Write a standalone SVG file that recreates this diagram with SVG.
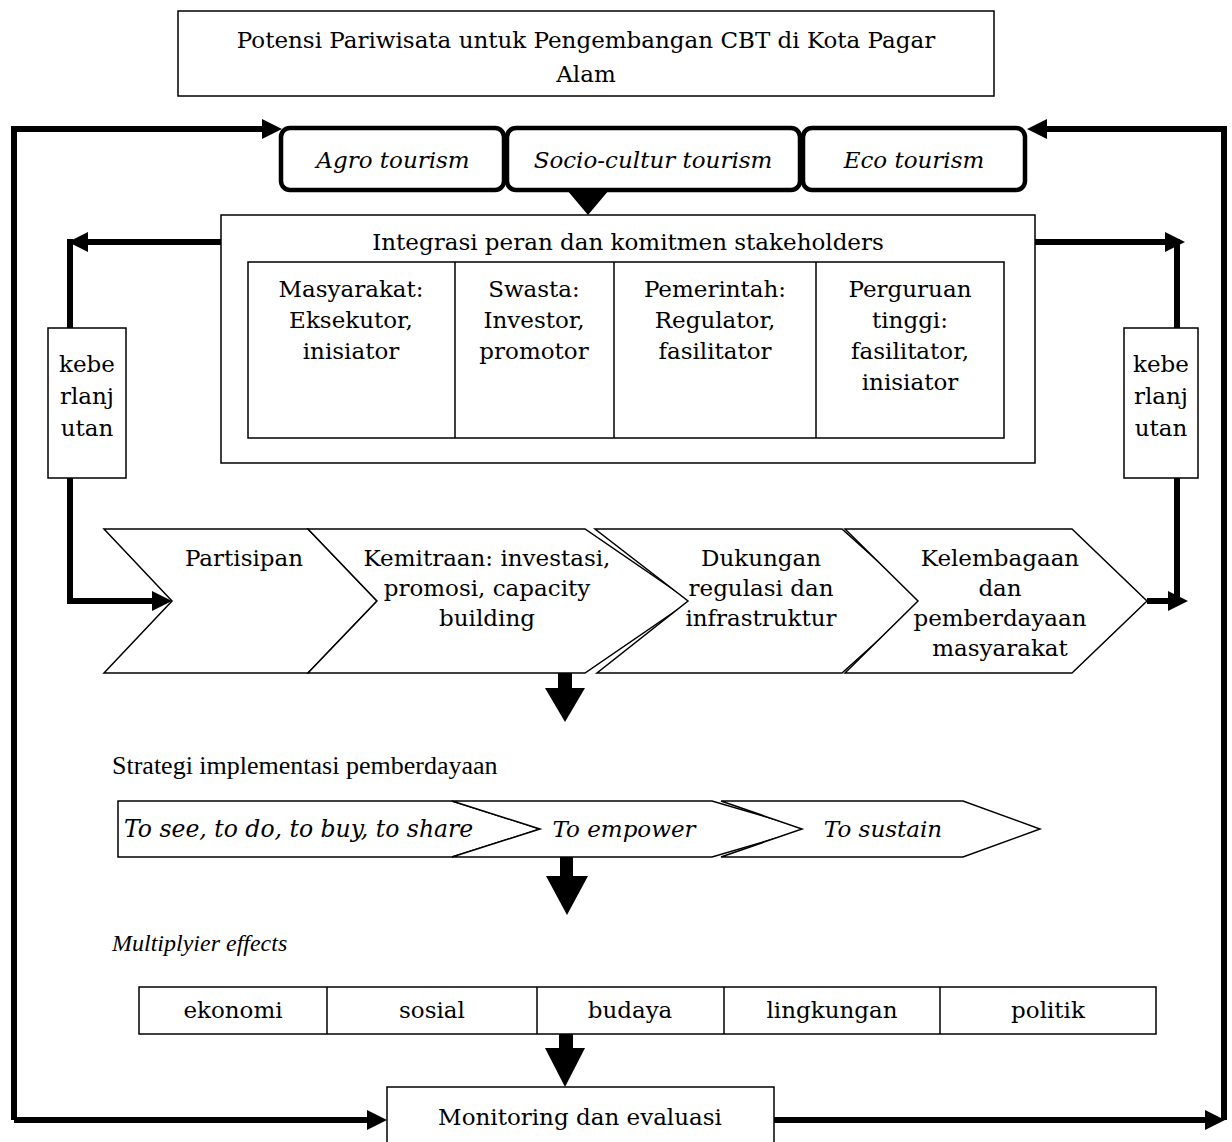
<svg xmlns="http://www.w3.org/2000/svg" width="1232" height="1142" viewBox="0 0 1232 1142">
<style>
text{font-family:"DejaVu Serif","Liberation Serif",serif;font-size:23px;fill:#000;text-anchor:middle}
.it{font-style:italic}
.lt{text-anchor:start}
.tnr{font-family:"Liberation Serif","DejaVu Serif",serif}
.box{fill:#fff;stroke:#000;stroke-width:1.5}
.tour{fill:#fff;stroke:#000;stroke-width:4.5}
.thick{fill:none;stroke:#000;stroke-width:6;stroke-linejoin:miter}
.blk{fill:#000;stroke:none}
</style>
<defs>
<marker id="ah" viewBox="0 0 20 20" markerWidth="20" markerHeight="20" markerUnits="userSpaceOnUse" refX="0" refY="10" orient="auto">
<path d="M0,0 L20,10 L0,20 z" fill="#000"/>
</marker>
</defs>

<g id="connectors">
<path class="thick" d="M14,1120 V129 H262" marker-end="url(#ah)"/>
<path class="thick" d="M14,1120 H367" marker-end="url(#ah)"/>
<path class="thick" d="M1224,1120 V129 H1047" marker-end="url(#ah)"/>
<path class="thick" d="M774,1120 H1205" marker-end="url(#ah)"/>
<path class="thick" d="M221,242 H88" marker-end="url(#ah)"/>
<path class="thick" d="M70,239 V601 H152" marker-end="url(#ah)"/>
<path class="thick" d="M1035,242 H1165" marker-end="url(#ah)"/>
<path class="thick" d="M1177,239 V601"/>
<path class="thick" d="M1147,601 H1168" marker-end="url(#ah)"/>
<polygon class="blk" points="567,190 609,190 588,215"/>
<rect class="blk" x="558" y="673" width="14" height="17"/>
<polygon class="blk" points="545,688 585,688 565,722"/>
<rect class="blk" x="560" y="857" width="13" height="20"/>
<polygon class="blk" points="546,876 588,876 567,915"/>
<rect class="blk" x="559" y="1034" width="14" height="15"/>
<polygon class="blk" points="545,1048 585,1048 565,1087"/>
</g>

<g id="title">
<rect class="box" x="178" y="11" width="816" height="85"/>
<text x="586" y="48">Potensi Pariwisata untuk Pengembangan CBT di Kota Pagar</text>
<text x="586" y="82">Alam</text>
</g>

<g id="agro">
<rect class="tour" x="281" y="128" width="223" height="62" rx="9"/>
<text class="it" x="393" y="168">Agro tourism</text>
</g>
<g id="socio">
<rect class="tour" x="507" y="128" width="293" height="62" rx="9"/>
<text class="it" x="653" y="168">Socio-cultur tourism</text>
</g>
<g id="eco">
<rect class="tour" x="803" y="128" width="222" height="62" rx="9"/>
<text class="it" x="914" y="168">Eco tourism</text>
</g>

<g id="integrasi">
<rect class="box" x="221" y="215" width="814" height="248"/>
<text x="628" y="250">Integrasi peran dan komitmen stakeholders</text>
<rect class="box" x="248" y="262" width="756" height="176"/>
<line class="box" x1="455" y1="262" x2="455" y2="438"/>
<line class="box" x1="614" y1="262" x2="614" y2="438"/>
<line class="box" x1="816" y1="262" x2="816" y2="438"/>
<text x="351" y="297">Masyarakat:</text>
<text x="351" y="328">Eksekutor,</text>
<text x="351" y="359">inisiator</text>
<text x="534" y="297">Swasta:</text>
<text x="534" y="328">Investor,</text>
<text x="534" y="359">promotor</text>
<text x="715" y="297">Pemerintah:</text>
<text x="715" y="328">Regulator,</text>
<text x="715" y="359">fasilitator</text>
<text x="910" y="297">Perguruan</text>
<text x="910" y="328">tinggi:</text>
<text x="910" y="359">fasilitator,</text>
<text x="910" y="390">inisiator</text>
</g>

<g id="keberlanjutan-kiri">
<rect class="box" x="48" y="328" width="78" height="150"/>
<text x="87" y="372">kebe</text>
<text x="87" y="404">rlanj</text>
<text x="87" y="436">utan</text>
</g>
<g id="keberlanjutan-kanan">
<rect class="box" x="1124" y="328" width="74" height="150"/>
<text x="1161" y="372">kebe</text>
<text x="1161" y="404">rlanj</text>
<text x="1161" y="436">utan</text>
</g>

<g id="partisipan">
<polygon class="box" points="104,529 308,529 377,601 308,673 104,673 172,601"/>
<text x="244" y="566">Partisipan</text>
</g>
<g id="kemitraan">
<polygon class="box" points="308,529 585,529 690,601 585,673 308,673 377,601"/>
<text x="487" y="566">Kemitraan: investasi,</text>
<text x="487" y="596">promosi, capacity</text>
<text x="487" y="626">building</text>
</g>
<g id="dukungan">
<polygon class="box" points="595,529 842,529 922,601 842,673 597,673 688,601"/>
<text x="761" y="566">Dukungan</text>
<text x="761" y="596">regulasi dan</text>
<text x="761" y="626">infrastruktur</text>
</g>
<g id="kelembagaan">
<polygon class="box" points="845,529 1072,529 1147,601 1072,673 845,673 918,601"/>
<text x="1000" y="566">Kelembagaan</text>
<text x="1000" y="596">dan</text>
<text x="1000" y="626">pemberdayaan</text>
<text x="1000" y="656">masyarakat</text>
</g>

<g id="strategi-label">
<text class="lt tnr" x="112" y="774" style="font-size:26px">Strategi implementasi pemberdayaan</text>
</g>

<g id="to-see">
<polygon class="box" points="118,801 452,801 540,829 452,857 118,857"/>
<text class="it lt" x="124" y="837" style="font-size:23.5px">To see, to do, to buy, to share</text>
</g>
<g id="to-empower">
<polygon class="box" points="452,801 712,801 807,829 712,857 452,857 540,829"/>
<text class="it" x="624" y="837">To empower</text>
</g>
<g id="to-sustain">
<polygon class="box" points="721,801 963,801 1040,829 963,857 721,857 802,829"/>
<text class="it" x="883" y="837">To sustain</text>
</g>

<g id="multiplier-label">
<text class="it lt tnr" x="112" y="951" style="font-size:24px">Multiplyier effects</text>
</g>

<g id="effects">
<rect class="box" x="139" y="987" width="1017" height="47"/>
<line class="box" x1="327" y1="987" x2="327" y2="1034"/>
<line class="box" x1="537" y1="987" x2="537" y2="1034"/>
<line class="box" x1="724" y1="987" x2="724" y2="1034"/>
<line class="box" x1="940" y1="987" x2="940" y2="1034"/>
<text x="233" y="1018">ekonomi</text>
<text x="432" y="1018">sosial</text>
<text x="630" y="1018">budaya</text>
<text x="832" y="1018">lingkungan</text>
<text x="1048" y="1018">politik</text>
</g>

<g id="monitoring">
<rect class="box" x="387" y="1087" width="387" height="70"/>
<text x="580" y="1125">Monitoring dan evaluasi</text>
</g>
</svg>
